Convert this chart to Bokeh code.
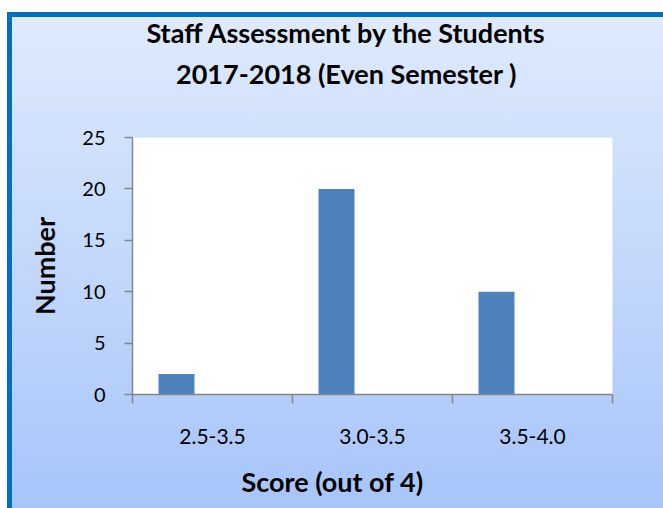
from bokeh.plotting import figure
from bokeh.models import Range1d, LinearAxis, FixedTicker, ColumnDataSource
from bokeh.transform import dodge
from bokeh.embed import file_html
from bokeh.resources import INLINE

# ---- data ----
categories = ["2.5-3.5", "3.0-3.5", "3.5-4.0"]
counts = [2, 20, 10]
y_ticks = [0, 5, 10, 15, 20, 25]
title_lines = ["Staff Assessment by the Students", "2017-2018 (Even Semester )"]
x_title = "Score (out of 4)"
y_title = "Number"

FONT = "Lato"
AXIS_GRAY = "#868686"
BAR_BLUE = "#4f81bd"
BOLD_SIZE = "27px"

n = len(categories)
p = figure(
    width=663, height=508,
    x_range=Range1d(0, n),
    y_range=Range1d(0, 25),
    output_backend="svg", toolbar_location=None,
    x_axis_location=None, y_axis_location=None,
    min_border_left=132, min_border_right=51,
    min_border_top=137, min_border_bottom=114,
)
p.background_fill_color = "white"
p.border_fill_color = None
p.outline_line_color = None
p.grid.visible = False
p.styles = {
    "background": (
        "linear-gradient(#ffffff,#ffffff) 0px 0px / 100% 12px no-repeat, "
        "linear-gradient(#ffffff,#ffffff) 0px 0px / 7px 100% no-repeat, "
        "linear-gradient(#0070c0,#0070c0) 7px 12px / 100% 5px no-repeat, "
        "linear-gradient(#0070c0,#0070c0) 7px 12px / 5px 100% no-repeat, "
        "linear-gradient(to bottom, #dfeafc 17px, #a7c5fa 100%)"
    )
}

# category slot centres are at index + 0.5; the single series sits left of centre
src = ColumnDataSource(dict(pos=[i + 0.5 for i in range(n)], count=counts))
p.vbar(x=dodge("pos", -0.225), top="count", width=0.225,
       source=src, fill_color=BAR_BLUE, line_color=None)

# x axis: boundary ticks, centred category labels
xa = LinearAxis(
    ticker=FixedTicker(ticks=[i + 0.5 for i in range(n)], minor_ticks=list(range(n + 1))),
    major_label_overrides={i + 0.5: c for i, c in enumerate(categories)},
)
xa.axis_line_color = AXIS_GRAY
xa.axis_line_width = 1.5
xa.major_tick_line_color = None
xa.major_tick_out = 9
xa.minor_tick_line_color = AXIS_GRAY
xa.minor_tick_line_width = 1.5
xa.minor_tick_out = 9
xa.minor_tick_in = 0
xa.major_label_standoff = 25
xa.major_label_text_font = FONT
xa.major_label_text_font_size = "21px"
xa.major_label_text_color = "black"
p.add_layout(xa, "below")


def text_axis(label, centre, standoff):
    """An axis with no line or tick marks whose single tick label is a bold title,
    centred at data position `centre` along the x range."""
    ax = LinearAxis(ticker=FixedTicker(ticks=[centre], minor_ticks=[]),
                    major_label_overrides={centre: label})
    ax.axis_line_color = None
    ax.major_tick_line_color = None
    ax.minor_tick_line_color = None
    ax.major_tick_out = 0
    ax.major_tick_in = 0
    ax.minor_tick_out = 0
    ax.major_label_standoff = standoff
    ax.major_label_text_font = FONT
    ax.major_label_text_font_style = "bold"
    ax.major_label_text_font_size = BOLD_SIZE
    ax.major_label_text_color = "black"
    return ax


# x-axis title below the tick labels (centred slightly left of the frame centre)
p.add_layout(text_axis(x_title, 1.25, 18), "below")

ya = LinearAxis(ticker=FixedTicker(ticks=y_ticks))
ya.axis_line_color = AXIS_GRAY
ya.axis_line_width = 1.5
ya.major_tick_line_color = AXIS_GRAY
ya.major_tick_line_width = 1.5
ya.major_tick_out = 8
ya.major_tick_in = 0
ya.minor_tick_line_color = None
ya.major_label_standoff = 19
ya.major_label_text_font = FONT
ya.major_label_text_font_size = "20px"
ya.major_label_text_color = "black"
ya.axis_label = y_title
ya.axis_label_standoff = 18
ya.axis_label_text_font = FONT
ya.axis_label_text_font_style = "bold"
ya.axis_label_text_font_size = BOLD_SIZE
ya.axis_label_text_color = "black"
p.add_layout(ya, "left")

# chart title, two lines (the panel nearest the frame is added first)
p.add_layout(text_axis(title_lines[1], 1.3375, 48), "above")
p.add_layout(text_axis(title_lines[0], 1.3375, 5), "above")

open("out.html", "w").write(file_html(p, INLINE))
